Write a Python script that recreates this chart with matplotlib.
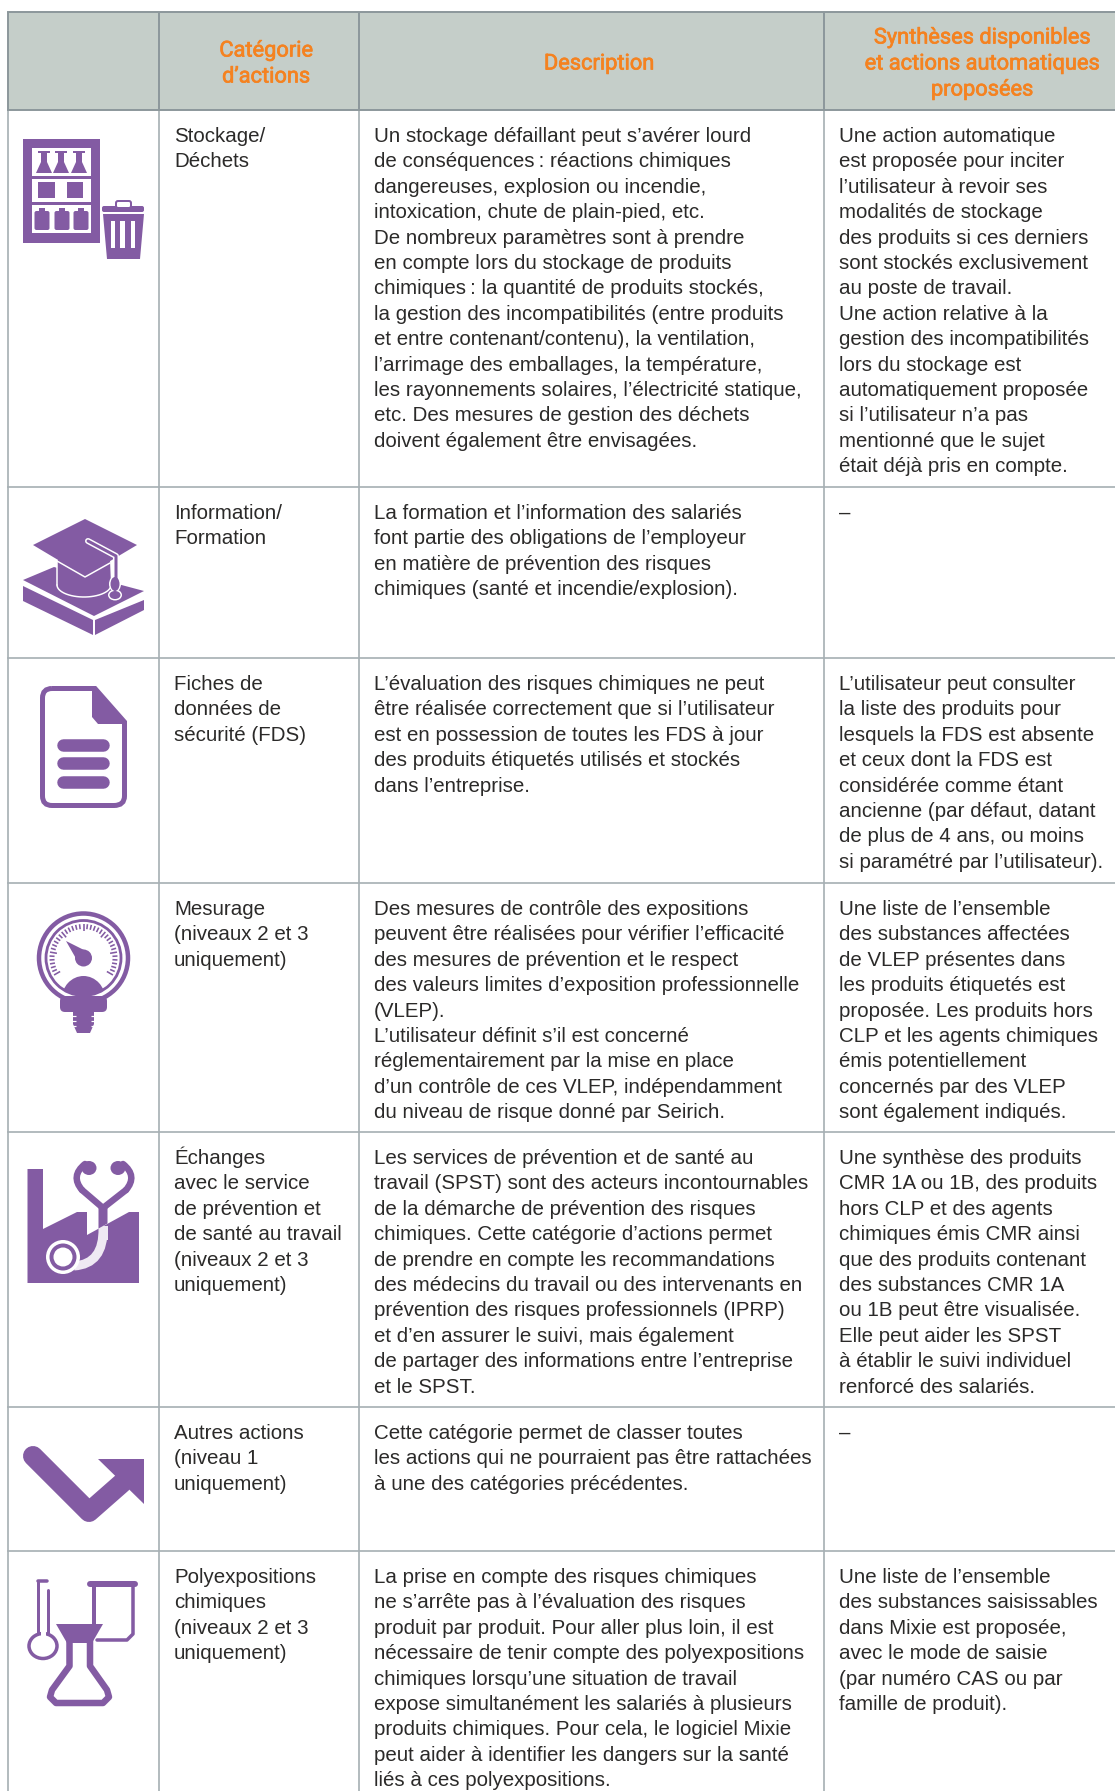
# coding: utf-8
"""
Tableau des catégories d'actions (Seirich)
"""

import matplotlib
matplotlib.use('Agg')
import matplotlib.pyplot as plt
import matplotlib.patches as patches
import matplotlib.patheffects as pe
from matplotlib.path import Path
import numpy as np

plt.rcParams['font.family'] = ['Liberation Sans', 'DejaVu Sans']

W, H = 1115, 1791
GREY = '#a6afb3'
GREY_DARK = '#8c979b'
HEAD_BG = '#c5cec9'
ORANGE = '#f58220'
PURPLE = '#835ba3'
LAVENDER = '#efe9f3'
TEXT = '#2b2a29'

col_x = [8, 159, 359, 824]
row_y = [12, 110, 487, 658, 883, 1132, 1407, 1551]

headers = [
    ['Catégorie', 'd’actions'],
    ['Description'],
    ['Synthèses disponibles', 'et actions automatiques', 'proposées'],
]
header_x = [266, 599, 982]

categories = [
    ['Stockage/', 'Déchets'],
    ['Information/', 'Formation'],
    ['Fiches de', 'données de', 'sécurité (FDS)'],
    ['Mesurage', '(niveaux 2 et 3', 'uniquement)'],
    ['Échanges', 'avec le service', 'de prévention et', 'de santé au travail',
     '(niveaux 2 et 3', 'uniquement)'],
    ['Autres actions', '(niveau 1', 'uniquement)'],
    ['Polyexpositions', 'chimiques', '(niveaux 2 et 3', 'uniquement)'],
]

descriptions = [
    ['Un stockage défaillant peut s’avérer lourd',
     'de conséquences\u2009: réactions chimiques',
     'dangereuses, explosion ou incendie,',
     'intoxication, chute de plain-pied, etc.',
     'De nombreux paramètres sont à prendre',
     'en compte lors du stockage de produits',
     'chimiques\u2009: la quantité de produits stockés,',
     'la gestion des incompatibilités (entre produits',
     'et entre contenant/contenu), la ventilation,',
     'l’arrimage des emballages, la température,',
     'les rayonnements solaires, l’électricité statique,',
     'etc. Des mesures de gestion des déchets',
     'doivent également être envisagées.'],
    ['La formation et l’information des salariés',
     'font partie des obligations de l’employeur',
     'en matière de prévention des risques',
     'chimiques (santé et incendie/explosion).'],
    ['L’évaluation des risques chimiques ne peut',
     'être réalisée correctement que si l’utilisateur',
     'est en possession de toutes les FDS à jour',
     'des produits étiquetés utilisés et stockés',
     'dans l’entreprise.'],
    ['Des mesures de contrôle des expositions',
     'peuvent être réalisées pour vérifier l’efficacité',
     'des mesures de prévention et le respect',
     'des valeurs limites d’exposition professionnelle',
     '(VLEP).',
     'L’utilisateur définit s’il est concerné',
     'réglementairement par la mise en place',
     'd’un contrôle de ces VLEP, indépendamment',
     'du niveau de risque donné par Seirich.'],
    ['Les services de prévention et de santé au',
     'travail (SPST) sont des acteurs incontournables',
     'de la démarche de prévention des risques',
     'chimiques. Cette catégorie d’actions permet',
     'de prendre en compte les recommandations',
     'des médecins du travail ou des intervenants en',
     'prévention des risques professionnels (IPRP)',
     'et d’en assurer le suivi, mais également',
     'de partager des informations entre l’entreprise',
     'et le SPST.'],
    ['Cette catégorie permet de classer toutes',
     'les actions qui ne pourraient pas être rattachées',
     'à une des catégories précédentes.'],
    ['La prise en compte des risques chimiques',
     'ne s’arrête pas à l’évaluation des risques',
     'produit par produit. Pour aller plus loin, il est',
     'nécessaire de tenir compte des polyexpositions',
     'chimiques lorsqu’une situation de travail',
     'expose simultanément les salariés à plusieurs',
     'produits chimiques. Pour cela, le logiciel Mixie',
     'peut aider à identifier les dangers sur la santé',
     'liés à ces polyexpositions.'],
]

syntheses = [
    ['Une action automatique',
     'est proposée pour inciter',
     'l’utilisateur à revoir ses',
     'modalités de stockage',
     'des produits si ces derniers',
     'sont stockés exclusivement',
     'au poste de travail.',
     'Une action relative à la',
     'gestion des incompatibilités',
     'lors du stockage est',
     'automatiquement proposée',
     'si l’utilisateur n’a pas',
     'mentionné que le sujet',
     'était déjà pris en compte.'],
    ['–'],
    ['L’utilisateur peut consulter',
     'la liste des produits pour',
     'lesquels la FDS est absente',
     'et ceux dont la FDS est',
     'considérée comme étant',
     'ancienne (par défaut, datant',
     'de plus de 4 ans, ou moins',
     'si paramétré par l’utilisateur).'],
    ['Une liste de l’ensemble',
     'des substances affectées',
     'de VLEP présentes dans',
     'les produits étiquetés est',
     'proposée. Les produits hors',
     'CLP et les agents chimiques',
     'émis potentiellement',
     'concernés par des VLEP',
     'sont également indiqués.'],
    ['Une synthèse des produits',
     'CMR 1A ou 1B, des produits',
     'hors CLP et des agents',
     'chimiques émis CMR ainsi',
     'que des produits contenant',
     'des substances CMR 1A',
     'ou 1B peut être visualisée.',
     'Elle peut aider les SPST',
     'à établir le suivi individuel',
     'renforcé des salariés.'],
    ['–'],
    ['Une liste de l’ensemble',
     'des substances saisissables',
     'dans Mixie est proposée,',
     'avec le mode de saisie',
     '(par numéro CAS ou par',
     'famille de produit).'],
]

LINE_H = 25.4
BODY_SIZE = 14.72
HEAD_SIZE = 15.7

fig = plt.figure(figsize=(W / 100, H / 100), dpi=100)
fig.patch.set_facecolor('white')
ax = fig.add_axes([0, 0, 1, 1])
ax.set_xlim(0, W)
ax.set_ylim(H, 0)
ax.axis('off')


def px(n):
    # largeur en pixels -> points
    return n * 0.72


def poly(pts, color=PURPLE, z=3):
    p = patches.Polygon(pts, closed=True, facecolor=color, edgecolor='none', zorder=z)
    ax.add_patch(p)
    return p


def stroke(pts, lw, color=PURPLE, z=3, cap='round'):
    xs, ys = zip(*pts)
    ax.plot(xs, ys, color=color, lw=px(lw), solid_capstyle=cap, solid_joinstyle='round', zorder=z)


def curve(pts, lw, color=PURPLE, z=3, cap='round'):
    # courbe de Bézier quadratique : départ puis paires contrôle/arrivée
    codes = [Path.MOVETO] + [Path.CURVE3] * (len(pts) - 1)
    ax.add_patch(patches.PathPatch(Path(pts, codes), facecolor='none', edgecolor=color,
                                   linewidth=px(lw), capstyle=cap, zorder=z))


def rect(x0, y0, x1, y1, color=PURPLE, z=3):
    ax.add_patch(patches.Rectangle((x0, y0), x1 - x0, y1 - y0, facecolor=color, edgecolor='none', zorder=z))


def ellipse(cx, cy, w, h, fc=PURPLE, ec='none', lw=0, z=3):
    e = patches.Ellipse((cx, cy), w, h, facecolor=fc, edgecolor=ec, linewidth=px(lw), zorder=z)
    ax.add_patch(e)
    return e


def rbox(x0, y0, x1, y1, r, fc=PURPLE, ec='none', lw=0, z=3):
    ax.add_patch(patches.FancyBboxPatch((x0 + r, y0 + r), x1 - x0 - 2 * r, y1 - y0 - 2 * r,
                                        boxstyle=f'round,pad={r},rounding_size={r}',
                                        facecolor=fc, edgecolor=ec, linewidth=px(lw), zorder=z))


def icon_stockage():
    rect(23, 139, 100, 243)
    for y0, y1 in [(148, 176), (179, 202), (205, 233)]:
        rect(32, y0, 91, y1, 'white', 4)
    # flacons du haut
    for cx in [44, 61, 79]:
        poly([(cx - 6, 151), (cx + 6, 151), (cx + 6, 153), (cx + 3, 153), (cx + 3, 162),
              (cx + 8, 173), (cx - 8, 173), (cx - 3, 162), (cx - 3, 153), (cx - 6, 153)], z=5)
    rect(38, 182, 55, 198, z=5)
    rect(67, 182, 83, 198, z=5)
    for cx in [42, 62, 81]:
        rect(cx - 3, 208, cx + 3, 213, z=5)
        rbox(cx - 7.5, 211, cx + 7.5, 230, 2, z=5)
    # poubelle
    rbox(102, 206, 144, 212, 2)
    rbox(116, 201, 131, 208, 2, fc='white', ec=PURPLE, lw=2)
    poly([(103, 214), (144, 214), (140, 259), (107, 259)])
    for x0, x1 in [(111, 115), (120, 125), (131, 135)]:
        rect(x0, 221, x1, 248, 'white', 4)


def icon_formation():
    # livre
    poly([(23, 580), (54, 567), (144, 591), (94, 616)])
    poly([(23, 586), (93, 620), (93, 635), (23, 601)])
    poly([(95, 620), (144, 600), (144, 610), (95, 635)])
    # toque : corps puis plateau
    th = np.linspace(np.pi, 0, 30)
    body = [(57, 560), (110, 560)] + [(84 + 27 * np.cos(t), 585 + 12 * np.sin(t)) for t in th[::-1]]
    poly(body, z=4)
    stroke([(84 + 27 * np.cos(t), 585 + 12 * np.sin(t)) for t in th] + [(111, 585)], 1.5, 'white', 4.1)
    stroke([(57, 585), (57, 560)], 1.5, 'white', 4.1)
    stroke([(57, 561), (85, 577), (110, 563)], 1.5, 'white', 5.5)
    poly([(85, 519), (137, 545), (85, 576), (33, 545)], z=5)
    # cordon et gland
    stroke([(88, 541), (116, 556), (116, 582)], 6, 'white', 6)
    stroke([(88, 541), (116, 556), (116, 582)], 3, PURPLE, 7)
    ellipse(115, 584, 12, 16, fc='white', z=6)
    ellipse(115, 595, 14, 11, fc='white', z=6)
    ellipse(115, 584, 9, 14, z=7)
    ellipse(115, 595, 11, 8, z=7)


def icon_fds():
    verts = [(52, 688.5), (95, 688.5), (124.5, 722), (124.5, 796), (124.5, 805.5), (114, 805.5),
             (52, 805.5), (42.5, 805.5), (42.5, 796), (42.5, 698), (42.5, 688.5), (52, 688.5)]
    codes = [Path.MOVETO, Path.LINETO, Path.LINETO, Path.LINETO, Path.CURVE3, Path.CURVE3,
             Path.LINETO, Path.CURVE3, Path.CURVE3, Path.LINETO, Path.CURVE3, Path.CURVE3]
    ax.add_patch(patches.PathPatch(Path(verts, codes), facecolor='white', edgecolor=PURPLE,
                                   linewidth=px(5), zorder=3))
    poly([(92, 688), (92, 717), (98, 724), (125, 724)], z=4)
    for y in [744.5, 763, 782]:
        stroke([(63, y), (103, y)], 12.5)


def icon_mesure():
    cx, cy = 83.5, 958
    ellipse(cx, cy, 89, 89, fc='white', ec=PURPLE, lw=4.5)
    inner = ellipse(cx, cy, 75, 75, fc='white', ec=PURPLE, lw=2.8, z=3.1)
    # graduations
    for i, a in enumerate(np.radians(np.linspace(-30, 210, 37))):
        r0 = 27 if i % 6 == 0 else 29
        stroke([(cx + r0 * np.cos(a), cy - r0 * np.sin(a)),
                (cx + 34 * np.cos(a), cy - 34 * np.sin(a))], 1.6, z=3.2, cap='butt')
    ellipse(cx, cy, 17, 17, z=4)
    poly([(66, 941), (88, 952), (78, 962)], z=4)
    # dôme coupé par le cadran
    dome = ellipse(cx, 1000, 44, 48, z=3.3)
    dome.set_clip_path(inner)
    rbox(60, 996, 107, 1012, 5)
    poly([(73, 1010), (94, 1010), (94, 1024), (90, 1033), (77, 1033), (73, 1024)])
    for y in [1016, 1021, 1026]:
        stroke([(72, y), (76, y)], 1.2, 'white', 4, cap='butt')
        stroke([(91, y), (95, y)], 1.2, 'white', 4, cap='butt')


def icon_sante():
    poly([(27.5, 1169), (43, 1169), (43, 1229), (77, 1212), (87, 1212), (87, 1235),
          (129, 1212), (139, 1212), (139, 1283), (27.5, 1283)])
    # tube : mauve clair dans l'usine, violet au-dessus du toit
    curve([(103, 1228), (104, 1264), (74, 1266)], 9, LAVENDER, 4, cap='butt')
    rect(98.5, 1226, 107.5, 1240, LAVENDER, 4)
    poly([(98.5, 1205), (107.5, 1205), (107.5, 1223.5), (98.5, 1228.5)], z=5)
    # embouts et lyre
    curve([(85, 1164), (70, 1176), (82, 1190)], 6.5, z=5)
    curve([(123, 1164), (138, 1176), (126, 1190)], 6.5, z=5)
    stroke([(82, 1190), (103, 1208), (126, 1190)], 6.5, z=5)
    ellipse(89, 1168, 15, 14, z=5)
    ellipse(118, 1168, 15, 14, z=5)
    # pavillon
    ellipse(63, 1257, 34, 34, fc='white', z=5)
    ellipse(63, 1257, 27, 27, fc=PURPLE, z=5)
    ellipse(63, 1257, 19, 19, fc='white', z=5)


def icon_autres():
    stroke([(33, 1456), (89, 1512), (122, 1483)], 20)
    poly([(98, 1459), (143.5, 1459), (143.5, 1504)])


def icon_poly():
    # ballon gradué
    stroke([(38, 1582), (38, 1634)], 3)
    stroke([(38, 1581), (47, 1581)], 3.5)
    stroke([(48, 1590), (48, 1634)], 3)
    ellipse(43, 1646, 28, 25, fc='white', ec=PURPLE, lw=3.5)
    rect(40.5, 1630, 45.5, 1637, 'white', 4)
    # bécher
    stroke([(90, 1584), (135, 1584)], 6)
    rect(92, 1586, 95.5, 1625)
    stroke([(133, 1586), (133, 1634), (127, 1640), (97, 1640)], 3.5)
    # fiole
    poly([(56, 1624), (103, 1624), (92, 1643), (67, 1643)], z=5)
    stroke([(69.5, 1640), (69.5, 1666), (52, 1690), (50, 1697), (56, 1703), (103, 1703),
            (109, 1697), (107, 1690), (90, 1666), (90, 1640)], 6.5, z=5)


# en-tête
rect(col_x[0], row_y[0], W, row_y[1], HEAD_BG, 1)
for x, lines in zip(header_x, headers):
    y0 = (row_y[0] + row_y[1]) / 2 + 3 - (len(lines) - 1) * 26 / 2
    for i, line in enumerate(lines):
        ax.text(x, y0 + i * 26, line, ha='center', va='center', fontsize=HEAD_SIZE,
                color=ORANGE, family=['Roboto', 'DejaVu Sans'], zorder=2,
                path_effects=[pe.withStroke(linewidth=0.5, foreground=ORANGE)])

# filets
for x in col_x:
    ax.plot([x, x], [row_y[0], row_y[1]], color=GREY_DARK, lw=1.4, zorder=2, solid_capstyle='butt')
    ax.plot([x, x], [row_y[1], H], color=GREY, lw=1.2, zorder=2, solid_capstyle='butt')
ax.plot([col_x[0], W], [row_y[0], row_y[0]], color=GREY_DARK, lw=1.4, zorder=2)
ax.plot([col_x[0], W], [row_y[1], row_y[1]], color=GREY_DARK, lw=1.4, zorder=2)
for y in row_y[2:]:
    ax.plot([col_x[0], W], [y, y], color=GREY, lw=1.2, zorder=2)

# corps du tableau
tops = row_y[1:]
for top, cat, desc, syn in zip(tops, categories, descriptions, syntheses):
    for x, lines in ((174, cat), (374, desc), (839, syn)):
        for i, line in enumerate(lines):
            ax.text(x, top + 32 + i * LINE_H, line, ha='left', va='baseline',
                    fontsize=BODY_SIZE, color=TEXT, zorder=2)

icon_stockage()
icon_formation()
icon_fds()
icon_mesure()
icon_sante()
icon_autres()
icon_poly()

plt.savefig('out.png', dpi=100)
plt.close()
